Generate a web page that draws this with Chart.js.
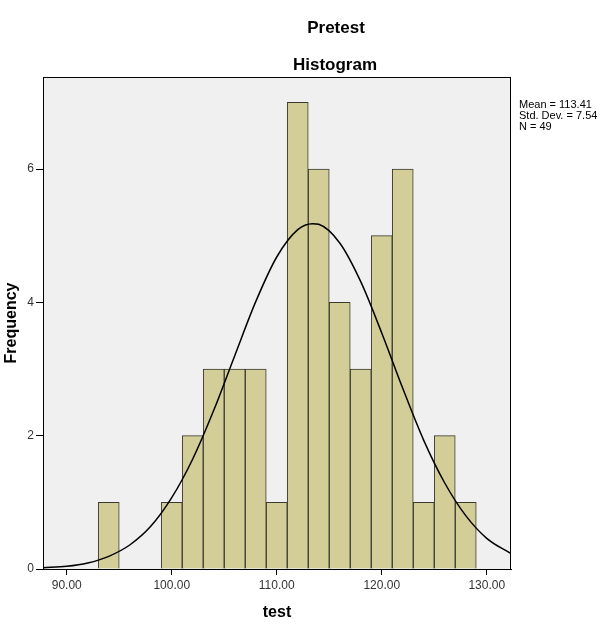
<!DOCTYPE html>
<html>
<head>
<meta charset="utf-8">
<title>Pretest Histogram</title>
<script src="https://cdn.jsdelivr.net/npm/chart.js@4/dist/chart.umd.min.js"></script>
<style>
  html, body { margin: 0; padding: 0; background: #ffffff; }
  #wrap { width: 604px; height: 633px; }
</style>
</head>
<body>
<div id="wrap"><canvas id="histChart" width="604" height="633"></canvas></div>
<script>
// ---------------------------
// DATA
// ---------------------------
const titleLines = ['Pretest', 'Histogram'];
const statLines = ['Mean = 113.41', 'Std. Dev. = 7.54', 'N = 49'];

// bin centres (bin width = 2) and frequencies, empty bins left out
const binCenters = [94, 100, 102, 104, 106, 108, 110, 112, 114, 116, 118, 120, 122, 124, 126, 128];
const binCounts  = [1,  1,   2,   3,   3,   3,   1,   7,   6,   4,   3,   5,   6,   1,   2,   1];

// normal curve, points
const curveX = [87.74, 90, 92, 94, 96, 98, 100, 102, 104, 106, 108, 110, 112, 113.4, 114, 116, 118, 120, 122, 124, 126, 128, 130, 132.31];
const curveY = [0.02, 0.04, 0.09, 0.19, 0.36, 0.64, 1.07, 1.65, 2.38, 3.2, 4.01, 4.68, 5.09, 5.18, 5.17, 4.89, 4.31, 3.54, 2.71, 1.93, 1.29, 0.8, 0.46, 0.23];

const xTicks = [90, 100, 110, 120, 130];
const yTicks = [0, 2, 4, 6];

const FONT = 'Arial, "Liberation Sans", sans-serif';

// ---------------------------
// PLOT FRAME + TEXT PLUGIN
// ---------------------------
const spssFrame = {
  id: 'spssFrame',
  beforeDatasetsDraw(chart) {
    const { ctx, chartArea: a } = chart;
    ctx.save();
    ctx.fillStyle = '#f0f0f0';
    ctx.fillRect(a.left, a.top, a.right - a.left, a.bottom - a.top);
    ctx.restore();
  },
  afterDraw(chart) {
    const { ctx, chartArea: a } = chart;
    ctx.save();
    ctx.strokeStyle = '#000000';
    ctx.lineWidth = 1;
    ctx.strokeRect(a.left + 0.5, a.top + 0.5, a.right - a.left - 1, a.bottom - a.top);

    // titles
    ctx.fillStyle = '#000000';
    ctx.font = 'bold 17px ' + FONT;
    ctx.textAlign = 'center';
    ctx.textBaseline = 'alphabetic';
    ctx.fillText(titleLines[0], 336, 33);
    ctx.fillText(titleLines[1], 335, 70);

    // stats box to the right
    ctx.font = '11px ' + FONT;
    ctx.textAlign = 'left';
    statLines.forEach((s, i) => {
      ctx.fillText(s, a.right + 8, 108 + i * 11);
    });
    ctx.restore();
  }
};

// ---------------------------
// CHART
// ---------------------------
const ctx = document.getElementById('histChart').getContext('2d');

const histChart = new Chart(ctx, {
  type: 'bar',
  data: {
    datasets: [
      {
        type: 'line',
        label: 'Normal',
        data: curveX.map((x, i) => ({ x: x, y: curveY[i] })),
        borderColor: '#000000',
        borderWidth: 1.5,
        pointRadius: 0,
        cubicInterpolationMode: 'monotone',
        fill: false,
        order: 0
      },
      {
        label: 'Frequency',
        data: binCenters.map((x, i) => ({ x: x, y: binCounts[i] })),
        backgroundColor: '#d3ce97',
        borderColor: '#3a3a30',
        borderWidth: 1,
        borderSkipped: 'start',
        barPercentage: 1,
        categoryPercentage: 1,
        order: 1
      }
    ]
  },
  options: {
    responsive: false,
    animation: false,
    layout: { padding: { top: 77, right: 93, left: 0, bottom: 0 } },
    plugins: {
      legend: { display: false },
      tooltip: { enabled: false }
    },
    scales: {
      x: {
        type: 'linear',
        min: 87.74,
        max: 132.31,
        offset: false,
        afterBuildTicks: (scale) => { scale.ticks = xTicks.map(v => ({ value: v })); },
        afterFit: (scale) => { scale.height = 64; },
        grid: { offset: false, drawOnChartArea: false, tickLength: 6, tickColor: '#000000' },
        border: { display: true, color: '#000000' },
        ticks: {
          padding: 3,
          color: '#333333',
          font: { family: FONT, size: 12 },
          maxRotation: 0,
          callback: (v) => Number(v).toFixed(2)
        },
        title: {
          display: true,
          text: 'test',
          color: '#000000',
          font: { family: FONT, size: 16, weight: 'bold' },
          padding: { top: 0, bottom: 11 }
        }
      },
      y: {
        min: 0,
        max: 7.38,
        afterBuildTicks: (scale) => { scale.ticks = yTicks.map(v => ({ value: v })); },
        afterFit: (scale) => { scale.width = 43; },
        grid: { drawOnChartArea: false, tickLength: 7, tickColor: '#000000' },
        border: { display: true, color: '#000000' },
        ticks: {
          padding: 2,
          color: '#333333',
          font: { family: FONT, size: 12 }
        },
        title: {
          display: true,
          text: 'Frequency',
          color: '#000000',
          font: { family: FONT, size: 16, weight: 'bold' },
          padding: { top: 2, bottom: 0 }
        }
      }
    }
  },
  plugins: [spssFrame]
});
</script>
</body>
</html>
